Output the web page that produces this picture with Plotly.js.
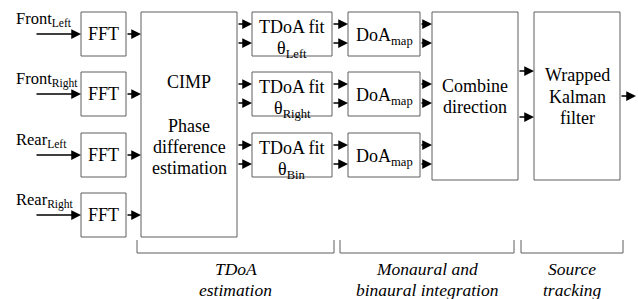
<!DOCTYPE html>
<html><head><meta charset="utf-8">
<script src="https://cdn.plot.ly/plotly-3.0.1.min.js"></script>
</head><body style="margin:0"><div id="chart" style="width:638px;height:299px"></div>
<script>
// ---- content (labels) ----
const inputLabels = ['Front<sub>Left</sub>', 'Front<sub>Right</sub>', 'Rear<sub>Left</sub>', 'Rear<sub>Right</sub>'];
const fftLabel = 'FFT';
const cimpLines = ['CIMP', 'Phase', 'difference', 'estimation'];
const tdoaTitle = 'TDoA fit';
const tdoaThetas = ['θ<sub>Left</sub>', 'θ<sub>Right</sub>', 'θ<sub>Bin</sub>'];
const doaLabel = 'DoA<sub>map</sub>';
const combineLines = ['Combine', 'direction'];
const kalmanLines = ['Wrapped', 'Kalman', 'filter'];
const stageTitles = [['TDoA', 'estimation'], ['Monaural and', 'binaural integration'], ['Source', 'tracking']];

// ---- geometry ----
const rowTop = [12, 72, 133, 193];
const rowH = 44;
const FONT = 'Liberation Serif';
const BOX = '#5f5f5f';
const fs = 18;

const shapes = [];
const annotations = [];

function box(x0, y0, x1, y1) {
  shapes.push({type: 'rect', xref: 'x', yref: 'y', x0, y0, x1, y1,
    line: {color: BOX, width: 1}, fillcolor: 'rgba(0,0,0,0)'});
}
function txt(x, y, text, size, xanchor) {
  annotations.push({x, y, xref: 'x', yref: 'y', text, showarrow: false,
    xanchor: xanchor || 'center', yanchor: 'middle',
    font: {family: FONT, size: size || fs, color: '#000'}});
}
function arrow(x0, x1, y) {
  annotations.push({x: x1, y, ax: x0, ay: y, xref: 'x', yref: 'y', axref: 'x', ayref: 'y',
    text: '', showarrow: true, arrowhead: 2, arrowsize: 1.5, arrowwidth: 1.3,
    arrowcolor: '#000', standoff: 0});
}

// inputs + FFT
inputLabels.forEach((lab, i) => {
  const t = rowTop[i], c = t + rowH / 2;
  txt(14, t + 7, lab, 16.5, 'left');
  arrow(35, 81, c);
  box(81, t, 126, t + rowH);
  txt(103.5, c, fftLabel);
  arrow(126, 141, c);
});

// CIMP block
box(141, 12, 237, 237);
const cimpY = [82, 126, 147, 168];
cimpLines.forEach((l, i) => txt(189, cimpY[i], l));

// TDoA fit + DoA map rows
tdoaThetas.forEach((th, i) => {
  const t = rowTop[i], c = t + rowH / 2;
  arrow(237, 252, c - 10);
  arrow(237, 252, c + 9);
  box(252, t, 332, t + rowH);
  txt(292, t + 15, tdoaTitle);
  txt(292, t + 37, th);
  arrow(332, 348, c - 10);
  arrow(332, 348, c + 9);
  box(348, t, 420, t + rowH);
  txt(384, c + 2, doaLabel);
  arrow(420, 432, c - 10);
  arrow(420, 432, c + 9);
});

// Combine direction
box(432, 12, 518, 180);
combineLines.forEach((l, i) => txt(475, 86 + i * 21, l));
arrow(518, 534, 71);
arrow(518, 534, 117);

// Wrapped Kalman filter
box(534, 12, 620, 180);
kalmanLines.forEach((l, i) => txt(577, 75 + i * 21.5, l));
arrow(620, 636, 96);

// stage brackets
const brackets = [[137, 334], [340, 514], [521, 623]];
brackets.forEach((b, i) => {
  shapes.push({type: 'path', xref: 'x', yref: 'y',
    path: `M${b[0]},240 L${b[0]},253 L${b[1]},253 L${b[1]},240`,
    line: {color: BOX, width: 1}});
  const cx = (b[0] + b[1]) / 2;
  stageTitles[i].forEach((l, j) => txt(cx, 269 + j * 21, '<i>' + l + '</i>', 17.5));
});

Plotly.newPlot('chart', [], {
  width: 638, height: 299,
  margin: {l: 0, r: 0, t: 0, b: 0},
  xaxis: {range: [0, 638], visible: false},
  yaxis: {range: [299, 0], visible: false},
  showlegend: false,
  shapes, annotations
}, {staticPlot: true});
</script>
</body></html>
